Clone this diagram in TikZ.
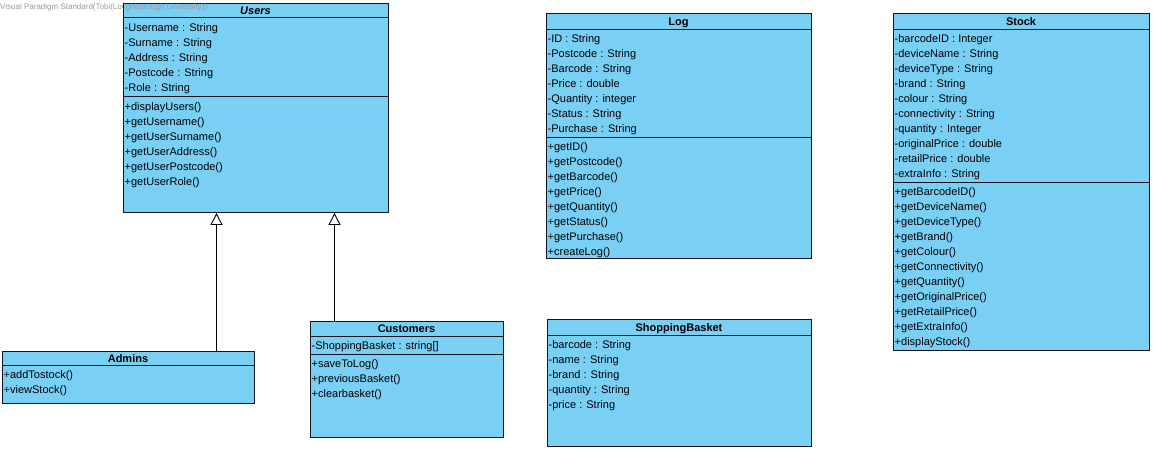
\documentclass[tikz,border=0pt]{standalone}
\usepackage{fontspec}
\setmainfont{Liberation Sans}
\usetikzlibrary{arrows.meta}
\definecolor{vpblue}{RGB}{122,207,245}
\definecolor{vpline}{RGB}{20,20,30}
\begin{document}
\begin{tikzpicture}[x=1pt,y=-1pt,
  cls/.style={draw=vpline, fill=vpblue, line width=0.9pt, anchor=north west, inner sep=0pt},
  sep/.style={draw=vpline, line width=0.9pt},
  txt/.style={anchor=base west, inner sep=0pt, font=\fontsize{11}{13}\selectfont, text=black},
  hdr/.style={anchor=base, inner sep=0pt, font=\fontsize{11}{13}\selectfont\bfseries, text=black},
  gen/.style={draw=black, line width=0.9pt, -{Triangle[open, width=12pt, length=12pt]}},
  wm/.style={anchor=base west, inner sep=0pt, font=\fontsize{8}{9}\selectfont, text=gray!80}
]
\useasboundingbox[fill=white] (0,0) rectangle (1153,450);

% ---------- Users ----------
\node[cls, minimum width=265pt, minimum height=209pt] (users) at (123,3) {};
\node[hdr, font=\fontsize{11}{13}\selectfont\bfseries\itshape] (usersT) at (255.5,14.5) {Users};
\draw[sep] (123,17.3) -- (388,17.3);
\draw[sep] (123,96.5) -- (388,96.5);
\foreach \t [count=\i] in {-Username : String,-Surname : String,-Address : String,-Postcode : String,-Role : String}
  \node[txt] (ua\i) at (124.5,{31+15*(\i-1)}) {\t};
\foreach \t [count=\i] in {+displayUsers(),+getUsername(),+getUserSurname(),+getUserAddress(),+getUserPostcode(),+getUserRole()}
  \node[txt] (um\i) at (124.5,{110.5+15*(\i-1)}) {\t};

% ---------- Log ----------
\node[cls, minimum width=265pt, minimum height=245pt] (log) at (546,13) {};
\node[hdr] (logT) at (678.5,25) {Log};
\draw[sep] (546,29) -- (811,29);
\draw[sep] (546,137) -- (811,137);
\foreach \t [count=\i] in {-ID : String,-Postcode : String,-Barcode : String,-Price : double,-Quantity : integer,-Status : String,-Purchase : String}
  \node[txt] (la\i) at (547.5,{42+15*(\i-1)}) {\t};
\foreach \t [count=\i] in {+getID(),+getPostcode(),+getBarcode(),+getPrice(),+getQuantity(),+getStatus(),+getPurchase(),+createLog()}
  \node[txt] (lm\i) at (547.5,{150+15*(\i-1)}) {\t};

% ---------- Stock ----------
\node[cls, minimum width=256pt, minimum height=337pt] (stock) at (893,13) {};
\node[hdr] (stockT) at (1021,25) {Stock};
\draw[sep] (893,29) -- (1149,29);
\draw[sep] (893,182) -- (1149,182);
\foreach \t [count=\i] in {-barcodeID : Integer,-deviceName : String,-deviceType : String,-brand : String,-colour : String,-connectivity : String,-quantity : Integer,-originalPrice : double,-retailPrice : double,-extraInfo : String}
  \node[txt] (sa\i) at (894.5,{42+15*(\i-1)}) {\t};
\foreach \t [count=\i] in {+getBarcodeID(),+getDeviceName(),+getDeviceType(),+getBrand(),+getColour(),+getConnectivity(),+getQuantity(),+getOriginalPrice(),+getRetailPrice(),+getExtraInfo(),+displayStock()}
  \node[txt] (sm\i) at (894.5,{195+15*(\i-1)}) {\t};

% ---------- Admins ----------
\node[cls, minimum width=252pt, minimum height=52pt] (admins) at (2,351) {};
\node[hdr] (adminsT) at (128,362) {Admins};
\draw[sep] (2,365) -- (254,365);
\foreach \t [count=\i] in {+addTostock(),+viewStock()}
  \node[txt] (am\i) at (3.5,{378+15*(\i-1)}) {\t};

% ---------- Customers ----------
\node[cls, minimum width=193pt, minimum height=116pt] (cust) at (310,321) {};
\node[hdr] (custT) at (406.5,332.5) {Customers};
\draw[sep] (310,336) -- (503,336);
\draw[sep] (310,354) -- (503,354);
\node[txt] (ca1) at (311.5,349) {-ShoppingBasket : string[]};
\foreach \t [count=\i] in {+saveToLog(),+previousBasket(),+clearbasket()}
  \node[txt] (cm\i) at (311.5,{367.5+15*(\i-1)}) {\t};

% ---------- ShoppingBasket ----------
\node[cls, minimum width=264pt, minimum height=127pt] (basket) at (547,319) {};
\node[hdr] (basketT) at (679,331) {ShoppingBasket};
\draw[sep] (547,335) -- (811,335);
\foreach \t [count=\i] in {-barcode : String,-name : String,-brand : String,-quantity : String,-price : String}
  \node[txt] (ba\i) at (548.5,{348+15*(\i-1)}) {\t};

% ---------- Generalizations ----------
\coordinate (gA) at (216.5,0);
\coordinate (gC) at (334.5,0);
\draw[gen] (admins.north west -| gA) -- (users.south west -| gA);
\draw[gen] (cust.north west -| gC) -- (users.south west -| gC);

% ---------- Watermark ----------
\node[wm] (wmark) at (0,9.5) {Visual Paradigm Standard(Tobi(Loughborough University))};
\end{tikzpicture}
\end{document}
